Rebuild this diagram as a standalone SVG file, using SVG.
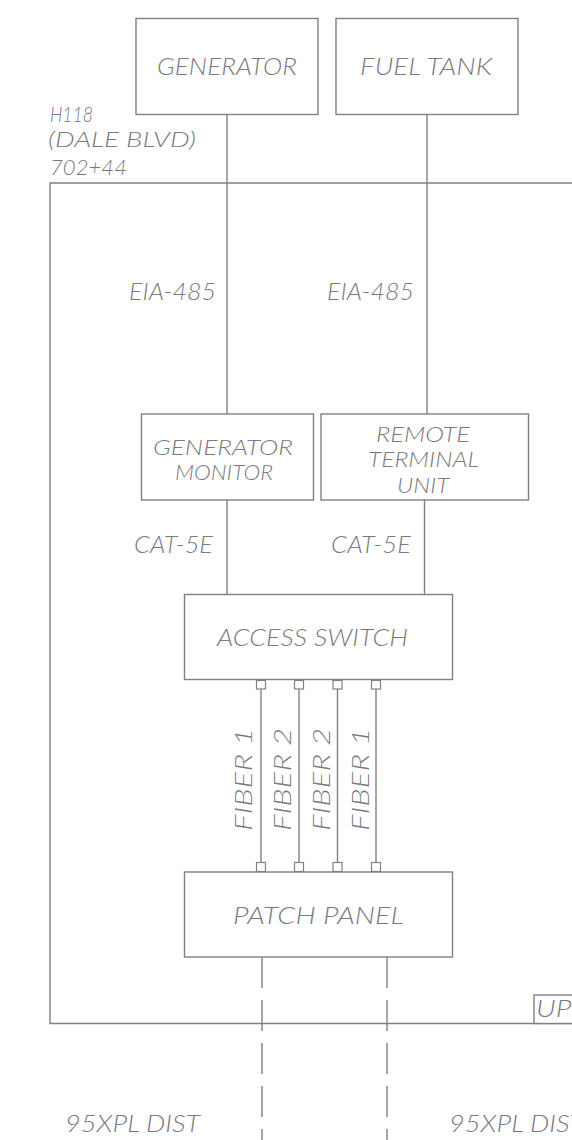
<svg xmlns="http://www.w3.org/2000/svg" width="572" height="1140" viewBox="0 0 572 1140">
<style>
.b{fill:#fff;stroke:#808080;stroke-width:1.4}
.l{fill:none;stroke:#808080;stroke-width:1.4}
.d{fill:none;stroke:#808080;stroke-width:1.4;stroke-dasharray:31 12}
.p{fill:#fff;stroke:#808080;stroke-width:1.2}
text{font-family:Lato,"Liberation Sans",sans-serif;font-weight:300;font-style:italic;font-size:23px;fill:#7a7a7a}
.s{font-size:21.5px}
.m{font-size:21px}
</style>
<rect width="572" height="1140" fill="#fff"/>
<g id="frame">
<polyline class="l" points="572,183 50,183 50,1023.5 572,1023.5"/>
<text class="s" x="50" y="122" textLength="43" lengthAdjust="spacingAndGlyphs">H118</text>
<text class="s" x="48" y="147" textLength="148" lengthAdjust="spacingAndGlyphs">(DALE  BLVD)</text>
<text class="s" x="50" y="174.5" textLength="77" lengthAdjust="spacingAndGlyphs">702+44</text>
</g>
<g id="connectors">
<line class="l" x1="227" y1="114" x2="227" y2="414"/>
<line class="l" x1="427" y1="114" x2="427" y2="414"/>
<line class="l" x1="227" y1="500" x2="227" y2="595"/>
<line class="l" x1="424.5" y1="500" x2="424.5" y2="595"/>
<line class="l" x1="261" y1="689" x2="261" y2="862"/>
<line class="l" x1="299" y1="689" x2="299" y2="862"/>
<line class="l" x1="337.5" y1="689" x2="337.5" y2="862"/>
<line class="l" x1="376" y1="689" x2="376" y2="862"/>
<rect class="p" x="256.5" y="680.5" width="9" height="8.5"/>
<rect class="p" x="294.5" y="680.5" width="9" height="8.5"/>
<rect class="p" x="333" y="680.5" width="9" height="8.5"/>
<rect class="p" x="371.5" y="680.5" width="9" height="8.5"/>
<rect class="p" x="256.5" y="862.5" width="9" height="9"/>
<rect class="p" x="294.5" y="862.5" width="9" height="9"/>
<rect class="p" x="333" y="862.5" width="9" height="9"/>
<rect class="p" x="371.5" y="862.5" width="9" height="9"/>
<line class="d" x1="262" y1="957" x2="262" y2="1140"/>
<line class="d" x1="387" y1="957" x2="387" y2="1140"/>
<text x="129" y="300" textLength="87" lengthAdjust="spacingAndGlyphs">EIA-485</text>
<text x="327" y="300" textLength="87" lengthAdjust="spacingAndGlyphs">EIA-485</text>
<text x="134" y="553" textLength="79" lengthAdjust="spacingAndGlyphs">CAT-5E</text>
<text x="331" y="553" textLength="80" lengthAdjust="spacingAndGlyphs">CAT-5E</text>
<text transform="translate(251.5,831) rotate(-90)" textLength="103" lengthAdjust="spacingAndGlyphs">FIBER  1</text>
<text transform="translate(291,831) rotate(-90)" textLength="103" lengthAdjust="spacingAndGlyphs">FIBER  2</text>
<text transform="translate(330,831) rotate(-90)" textLength="103" lengthAdjust="spacingAndGlyphs">FIBER  2</text>
<text transform="translate(369,831) rotate(-90)" textLength="103" lengthAdjust="spacingAndGlyphs">FIBER  1</text>
<text x="65" y="1132" textLength="135" lengthAdjust="spacingAndGlyphs">95XPL DIST</text>
<text x="449" y="1132" textLength="135" lengthAdjust="spacingAndGlyphs">95XPL DIST</text>
</g>
<g id="generator">
<rect class="b" x="136" y="18.5" width="182" height="96"/>
<text x="157" y="75" textLength="140" lengthAdjust="spacingAndGlyphs">GENERATOR</text>
</g>
<g id="fuel-tank">
<rect class="b" x="336" y="18.5" width="182" height="96"/>
<text x="360" y="75" textLength="132" lengthAdjust="spacingAndGlyphs">FUEL TANK</text>
</g>
<g id="generator-monitor">
<rect class="b" x="141.5" y="414" width="172" height="86"/>
<text class="m" x="153" y="455" textLength="140" lengthAdjust="spacingAndGlyphs">GENERATOR</text>
<text class="m" x="175" y="480" textLength="98" lengthAdjust="spacingAndGlyphs">MONITOR</text>
</g>
<g id="remote-terminal-unit">
<rect class="b" x="321" y="414" width="207.5" height="86"/>
<text class="m" x="376" y="441.5" textLength="94" lengthAdjust="spacingAndGlyphs">REMOTE</text>
<text class="m" x="368" y="466.5" textLength="111" lengthAdjust="spacingAndGlyphs">TERMINAL</text>
<text class="m" x="397" y="492.5" textLength="52" lengthAdjust="spacingAndGlyphs">UNIT</text>
</g>
<g id="access-switch">
<rect class="b" x="184.5" y="594.5" width="268" height="85"/>
<text x="217" y="646" textLength="191" lengthAdjust="spacingAndGlyphs">ACCESS  SWITCH</text>
</g>
<g id="patch-panel">
<rect class="b" x="184.5" y="872" width="268" height="85"/>
<text x="233" y="924" textLength="171" lengthAdjust="spacingAndGlyphs">PATCH  PANEL</text>
</g>
<g id="ups">
<rect class="b" x="534" y="995" width="50" height="28.5"/>
<text x="536" y="1017" textLength="50" lengthAdjust="spacingAndGlyphs">UPS</text>
</g>
</svg>
